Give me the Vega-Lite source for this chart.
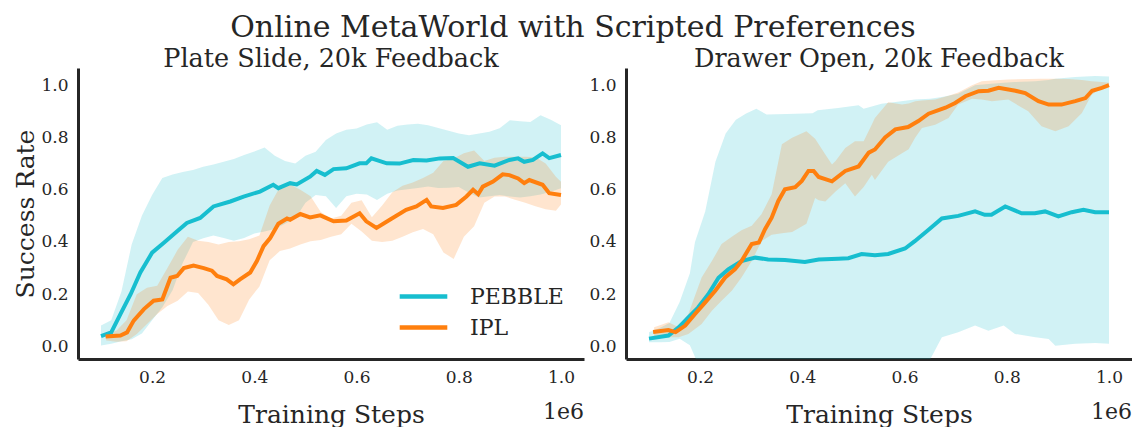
{
  "$schema": "https://vega.github.io/schema/vega-lite/v6.json",
  "padding": {"left": 13, "top": 12, "right": 0, "bottom": 0},
  "background": "white",
  "title": {"text": "Online MetaWorld with Scripted Preferences", "fontSize": 30, "offset": 4, "anchor": "middle"},
  "config": {
    "font": "DejaVu Serif",
    "view": {"stroke": null},
    "title": {"font": "DejaVu Serif", "fontWeight": "normal", "color": "#262626"},
    "axis": {"grid": false, "ticks": false, "tickSize": 0, "domainColor": "#262626", "domainWidth": 3, "labelFont": "DejaVu Serif", "labelFontSize": 17, "labelColor": "#262626", "titleFont": "DejaVu Serif", "titleFontSize": 25, "titleFontWeight": "normal", "titleColor": "#262626"}
  },
  "datasets": {
    "lines": [
      {"p":"plate","m":"PEBBLE","x":0.10,"y":0.04},{"p":"plate","m":"PEBBLE","x":0.12,"y":0.054},{"p":"plate","m":"PEBBLE","x":0.138,"y":0.124},{"p":"plate","m":"PEBBLE","x":0.158,"y":0.20},{"p":"plate","m":"PEBBLE","x":0.177,"y":0.283},{"p":"plate","m":"PEBBLE","x":0.20,"y":0.359},{"p":"plate","m":"PEBBLE","x":0.223,"y":0.397},{"p":"plate","m":"PEBBLE","x":0.249,"y":0.441},{"p":"plate","m":"PEBBLE","x":0.268,"y":0.473},{"p":"plate","m":"PEBBLE","x":0.294,"y":0.492},{"p":"plate","m":"PEBBLE","x":0.32,"y":0.536},{"p":"plate","m":"PEBBLE","x":0.353,"y":0.555},{"p":"plate","m":"PEBBLE","x":0.379,"y":0.574},{"p":"plate","m":"PEBBLE","x":0.411,"y":0.593},{"p":"plate","m":"PEBBLE","x":0.437,"y":0.619},{"p":"plate","m":"PEBBLE","x":0.447,"y":0.606},{"p":"plate","m":"PEBBLE","x":0.47,"y":0.625},{"p":"plate","m":"PEBBLE","x":0.483,"y":0.62},{"p":"plate","m":"PEBBLE","x":0.509,"y":0.65},{"p":"plate","m":"PEBBLE","x":0.522,"y":0.672},{"p":"plate","m":"PEBBLE","x":0.538,"y":0.657},{"p":"plate","m":"PEBBLE","x":0.555,"y":0.679},{"p":"plate","m":"PEBBLE","x":0.58,"y":0.682},{"p":"plate","m":"PEBBLE","x":0.606,"y":0.701},{"p":"plate","m":"PEBBLE","x":0.619,"y":0.701},{"p":"plate","m":"PEBBLE","x":0.629,"y":0.72},{"p":"plate","m":"PEBBLE","x":0.659,"y":0.701},{"p":"plate","m":"PEBBLE","x":0.684,"y":0.70},{"p":"plate","m":"PEBBLE","x":0.711,"y":0.714},{"p":"plate","m":"PEBBLE","x":0.737,"y":0.712},{"p":"plate","m":"PEBBLE","x":0.763,"y":0.72},{"p":"plate","m":"PEBBLE","x":0.789,"y":0.721},{"p":"plate","m":"PEBBLE","x":0.818,"y":0.688},{"p":"plate","m":"PEBBLE","x":0.841,"y":0.701},{"p":"plate","m":"PEBBLE","x":0.87,"y":0.692},{"p":"plate","m":"PEBBLE","x":0.899,"y":0.714},{"p":"plate","m":"PEBBLE","x":0.916,"y":0.72},{"p":"plate","m":"PEBBLE","x":0.928,"y":0.707},{"p":"plate","m":"PEBBLE","x":0.945,"y":0.714},{"p":"plate","m":"PEBBLE","x":0.964,"y":0.739},{"p":"plate","m":"PEBBLE","x":0.977,"y":0.721},{"p":"plate","m":"PEBBLE","x":1.0,"y":0.733},
      {"p":"plate","m":"IPL","x":0.109,"y":0.038},{"p":"plate","m":"IPL","x":0.138,"y":0.042},{"p":"plate","m":"IPL","x":0.151,"y":0.054},{"p":"plate","m":"IPL","x":0.164,"y":0.099},{"p":"plate","m":"IPL","x":0.184,"y":0.143},{"p":"plate","m":"IPL","x":0.203,"y":0.175},{"p":"plate","m":"IPL","x":0.22,"y":0.18},{"p":"plate","m":"IPL","x":0.236,"y":0.263},{"p":"plate","m":"IPL","x":0.249,"y":0.27},{"p":"plate","m":"IPL","x":0.262,"y":0.30},{"p":"plate","m":"IPL","x":0.281,"y":0.31},{"p":"plate","m":"IPL","x":0.301,"y":0.30},{"p":"plate","m":"IPL","x":0.317,"y":0.29},{"p":"plate","m":"IPL","x":0.327,"y":0.27},{"p":"plate","m":"IPL","x":0.346,"y":0.257},{"p":"plate","m":"IPL","x":0.359,"y":0.238},{"p":"plate","m":"IPL","x":0.372,"y":0.257},{"p":"plate","m":"IPL","x":0.392,"y":0.283},{"p":"plate","m":"IPL","x":0.405,"y":0.327},{"p":"plate","m":"IPL","x":0.418,"y":0.384},{"p":"plate","m":"IPL","x":0.431,"y":0.415},{"p":"plate","m":"IPL","x":0.447,"y":0.47},{"p":"plate","m":"IPL","x":0.464,"y":0.49},{"p":"plate","m":"IPL","x":0.47,"y":0.485},{"p":"plate","m":"IPL","x":0.49,"y":0.507},{"p":"plate","m":"IPL","x":0.509,"y":0.494},{"p":"plate","m":"IPL","x":0.529,"y":0.502},{"p":"plate","m":"IPL","x":0.555,"y":0.479},{"p":"plate","m":"IPL","x":0.58,"y":0.482},{"p":"plate","m":"IPL","x":0.606,"y":0.51},{"p":"plate","m":"IPL","x":0.619,"y":0.479},{"p":"plate","m":"IPL","x":0.639,"y":0.454},{"p":"plate","m":"IPL","x":0.665,"y":0.485},{"p":"plate","m":"IPL","x":0.697,"y":0.523},{"p":"plate","m":"IPL","x":0.717,"y":0.536},{"p":"plate","m":"IPL","x":0.737,"y":0.561},{"p":"plate","m":"IPL","x":0.746,"y":0.536},{"p":"plate","m":"IPL","x":0.769,"y":0.53},{"p":"plate","m":"IPL","x":0.795,"y":0.542},{"p":"plate","m":"IPL","x":0.815,"y":0.574},{"p":"plate","m":"IPL","x":0.828,"y":0.60},{"p":"plate","m":"IPL","x":0.838,"y":0.583},{"p":"plate","m":"IPL","x":0.847,"y":0.612},{"p":"plate","m":"IPL","x":0.867,"y":0.631},{"p":"plate","m":"IPL","x":0.886,"y":0.659},{"p":"plate","m":"IPL","x":0.899,"y":0.656},{"p":"plate","m":"IPL","x":0.916,"y":0.643},{"p":"plate","m":"IPL","x":0.928,"y":0.625},{"p":"plate","m":"IPL","x":0.938,"y":0.637},{"p":"plate","m":"IPL","x":0.964,"y":0.619},{"p":"plate","m":"IPL","x":0.977,"y":0.587},{"p":"plate","m":"IPL","x":1.0,"y":0.58},
      {"p":"drawer","m":"PEBBLE","x":0.10,"y":0.03},{"p":"drawer","m":"PEBBLE","x":0.138,"y":0.042},{"p":"drawer","m":"PEBBLE","x":0.158,"y":0.073},{"p":"drawer","m":"PEBBLE","x":0.177,"y":0.111},{"p":"drawer","m":"PEBBLE","x":0.196,"y":0.149},{"p":"drawer","m":"PEBBLE","x":0.216,"y":0.20},{"p":"drawer","m":"PEBBLE","x":0.236,"y":0.263},{"p":"drawer","m":"PEBBLE","x":0.255,"y":0.295},{"p":"drawer","m":"PEBBLE","x":0.281,"y":0.327},{"p":"drawer","m":"PEBBLE","x":0.308,"y":0.34},{"p":"drawer","m":"PEBBLE","x":0.333,"y":0.333},{"p":"drawer","m":"PEBBLE","x":0.366,"y":0.331},{"p":"drawer","m":"PEBBLE","x":0.405,"y":0.323},{"p":"drawer","m":"PEBBLE","x":0.432,"y":0.333},{"p":"drawer","m":"PEBBLE","x":0.47,"y":0.336},{"p":"drawer","m":"PEBBLE","x":0.49,"y":0.338},{"p":"drawer","m":"PEBBLE","x":0.516,"y":0.354},{"p":"drawer","m":"PEBBLE","x":0.542,"y":0.349},{"p":"drawer","m":"PEBBLE","x":0.568,"y":0.354},{"p":"drawer","m":"PEBBLE","x":0.601,"y":0.375},{"p":"drawer","m":"PEBBLE","x":0.62,"y":0.403},{"p":"drawer","m":"PEBBLE","x":0.647,"y":0.447},{"p":"drawer","m":"PEBBLE","x":0.673,"y":0.49},{"p":"drawer","m":"PEBBLE","x":0.705,"y":0.50},{"p":"drawer","m":"PEBBLE","x":0.738,"y":0.517},{"p":"drawer","m":"PEBBLE","x":0.757,"y":0.504},{"p":"drawer","m":"PEBBLE","x":0.77,"y":0.504},{"p":"drawer","m":"PEBBLE","x":0.797,"y":0.536},{"p":"drawer","m":"PEBBLE","x":0.829,"y":0.51},{"p":"drawer","m":"PEBBLE","x":0.855,"y":0.51},{"p":"drawer","m":"PEBBLE","x":0.875,"y":0.517},{"p":"drawer","m":"PEBBLE","x":0.901,"y":0.498},{"p":"drawer","m":"PEBBLE","x":0.927,"y":0.514},{"p":"drawer","m":"PEBBLE","x":0.95,"y":0.523},{"p":"drawer","m":"PEBBLE","x":0.973,"y":0.514},{"p":"drawer","m":"PEBBLE","x":1.0,"y":0.514},
      {"p":"drawer","m":"IPL","x":0.108,"y":0.055},{"p":"drawer","m":"IPL","x":0.138,"y":0.063},{"p":"drawer","m":"IPL","x":0.152,"y":0.055},{"p":"drawer","m":"IPL","x":0.171,"y":0.08},{"p":"drawer","m":"IPL","x":0.19,"y":0.124},{"p":"drawer","m":"IPL","x":0.21,"y":0.169},{"p":"drawer","m":"IPL","x":0.23,"y":0.214},{"p":"drawer","m":"IPL","x":0.249,"y":0.264},{"p":"drawer","m":"IPL","x":0.268,"y":0.295},{"p":"drawer","m":"IPL","x":0.281,"y":0.327},{"p":"drawer","m":"IPL","x":0.301,"y":0.392},{"p":"drawer","m":"IPL","x":0.315,"y":0.398},{"p":"drawer","m":"IPL","x":0.327,"y":0.449},{"p":"drawer","m":"IPL","x":0.34,"y":0.493},{"p":"drawer","m":"IPL","x":0.353,"y":0.557},{"p":"drawer","m":"IPL","x":0.366,"y":0.602},{"p":"drawer","m":"IPL","x":0.386,"y":0.61},{"p":"drawer","m":"IPL","x":0.399,"y":0.634},{"p":"drawer","m":"IPL","x":0.412,"y":0.672},{"p":"drawer","m":"IPL","x":0.422,"y":0.672},{"p":"drawer","m":"IPL","x":0.432,"y":0.649},{"p":"drawer","m":"IPL","x":0.458,"y":0.632},{"p":"drawer","m":"IPL","x":0.484,"y":0.672},{"p":"drawer","m":"IPL","x":0.51,"y":0.689},{"p":"drawer","m":"IPL","x":0.53,"y":0.742},{"p":"drawer","m":"IPL","x":0.542,"y":0.754},{"p":"drawer","m":"IPL","x":0.562,"y":0.80},{"p":"drawer","m":"IPL","x":0.582,"y":0.831},{"p":"drawer","m":"IPL","x":0.607,"y":0.84},{"p":"drawer","m":"IPL","x":0.627,"y":0.863},{"p":"drawer","m":"IPL","x":0.647,"y":0.891},{"p":"drawer","m":"IPL","x":0.68,"y":0.914},{"p":"drawer","m":"IPL","x":0.699,"y":0.932},{"p":"drawer","m":"IPL","x":0.719,"y":0.958},{"p":"drawer","m":"IPL","x":0.745,"y":0.977},{"p":"drawer","m":"IPL","x":0.764,"y":0.979},{"p":"drawer","m":"IPL","x":0.784,"y":0.99},{"p":"drawer","m":"IPL","x":0.817,"y":0.979},{"p":"drawer","m":"IPL","x":0.836,"y":0.97},{"p":"drawer","m":"IPL","x":0.862,"y":0.939},{"p":"drawer","m":"IPL","x":0.882,"y":0.926},{"p":"drawer","m":"IPL","x":0.907,"y":0.926},{"p":"drawer","m":"IPL","x":0.934,"y":0.939},{"p":"drawer","m":"IPL","x":0.954,"y":0.951},{"p":"drawer","m":"IPL","x":0.967,"y":0.979},{"p":"drawer","m":"IPL","x":0.986,"y":0.99},{"p":"drawer","m":"IPL","x":1.0,"y":1.0}
    ],
    "bands": [
      {"p":"plate","m":"PEBBLE","x":0.10,"lo":0.004,"hi":0.08},{"p":"plate","m":"PEBBLE","x":0.12,"lo":0.01,"hi":0.10},{"p":"plate","m":"PEBBLE","x":0.14,"lo":0.02,"hi":0.21},{"p":"plate","m":"PEBBLE","x":0.16,"lo":0.028,"hi":0.39},{"p":"plate","m":"PEBBLE","x":0.18,"lo":0.05,"hi":0.50},{"p":"plate","m":"PEBBLE","x":0.20,"lo":0.10,"hi":0.58},{"p":"plate","m":"PEBBLE","x":0.22,"lo":0.15,"hi":0.645},{"p":"plate","m":"PEBBLE","x":0.24,"lo":0.215,"hi":0.658},{"p":"plate","m":"PEBBLE","x":0.26,"lo":0.32,"hi":0.668},{"p":"plate","m":"PEBBLE","x":0.28,"lo":0.40,"hi":0.676},{"p":"plate","m":"PEBBLE","x":0.30,"lo":0.414,"hi":0.688},{"p":"plate","m":"PEBBLE","x":0.32,"lo":0.425,"hi":0.697},{"p":"plate","m":"PEBBLE","x":0.34,"lo":0.415,"hi":0.707},{"p":"plate","m":"PEBBLE","x":0.36,"lo":0.405,"hi":0.718},{"p":"plate","m":"PEBBLE","x":0.38,"lo":0.415,"hi":0.733},{"p":"plate","m":"PEBBLE","x":0.40,"lo":0.432,"hi":0.746},{"p":"plate","m":"PEBBLE","x":0.42,"lo":0.44,"hi":0.762},{"p":"plate","m":"PEBBLE","x":0.44,"lo":0.45,"hi":0.73},{"p":"plate","m":"PEBBLE","x":0.46,"lo":0.47,"hi":0.71},{"p":"plate","m":"PEBBLE","x":0.48,"lo":0.49,"hi":0.70},{"p":"plate","m":"PEBBLE","x":0.50,"lo":0.55,"hi":0.73},{"p":"plate","m":"PEBBLE","x":0.52,"lo":0.58,"hi":0.745},{"p":"plate","m":"PEBBLE","x":0.54,"lo":0.575,"hi":0.79},{"p":"plate","m":"PEBBLE","x":0.56,"lo":0.53,"hi":0.815},{"p":"plate","m":"PEBBLE","x":0.58,"lo":0.575,"hi":0.83},{"p":"plate","m":"PEBBLE","x":0.60,"lo":0.585,"hi":0.834},{"p":"plate","m":"PEBBLE","x":0.62,"lo":0.582,"hi":0.85},{"p":"plate","m":"PEBBLE","x":0.64,"lo":0.561,"hi":0.858},{"p":"plate","m":"PEBBLE","x":0.66,"lo":0.585,"hi":0.83},{"p":"plate","m":"PEBBLE","x":0.68,"lo":0.597,"hi":0.845},{"p":"plate","m":"PEBBLE","x":0.70,"lo":0.602,"hi":0.85},{"p":"plate","m":"PEBBLE","x":0.72,"lo":0.607,"hi":0.853},{"p":"plate","m":"PEBBLE","x":0.74,"lo":0.612,"hi":0.847},{"p":"plate","m":"PEBBLE","x":0.76,"lo":0.607,"hi":0.836},{"p":"plate","m":"PEBBLE","x":0.78,"lo":0.608,"hi":0.826},{"p":"plate","m":"PEBBLE","x":0.80,"lo":0.61,"hi":0.815},{"p":"plate","m":"PEBBLE","x":0.82,"lo":0.588,"hi":0.809},{"p":"plate","m":"PEBBLE","x":0.84,"lo":0.57,"hi":0.815},{"p":"plate","m":"PEBBLE","x":0.86,"lo":0.575,"hi":0.822},{"p":"plate","m":"PEBBLE","x":0.88,"lo":0.58,"hi":0.835},{"p":"plate","m":"PEBBLE","x":0.90,"lo":0.574,"hi":0.866},{"p":"plate","m":"PEBBLE","x":0.92,"lo":0.57,"hi":0.862},{"p":"plate","m":"PEBBLE","x":0.94,"lo":0.575,"hi":0.859},{"p":"plate","m":"PEBBLE","x":0.96,"lo":0.582,"hi":0.885},{"p":"plate","m":"PEBBLE","x":0.98,"lo":0.592,"hi":0.868},{"p":"plate","m":"PEBBLE","x":1.00,"lo":0.606,"hi":0.847},
      {"p":"plate","m":"IPL","x":0.11,"lo":0.023,"hi":0.054},{"p":"plate","m":"IPL","x":0.13,"lo":0.018,"hi":0.06},{"p":"plate","m":"IPL","x":0.15,"lo":0.02,"hi":0.10},{"p":"plate","m":"IPL","x":0.17,"lo":0.048,"hi":0.20},{"p":"plate","m":"IPL","x":0.19,"lo":0.086,"hi":0.225},{"p":"plate","m":"IPL","x":0.21,"lo":0.124,"hi":0.232},{"p":"plate","m":"IPL","x":0.23,"lo":0.155,"hi":0.30},{"p":"plate","m":"IPL","x":0.25,"lo":0.175,"hi":0.37},{"p":"plate","m":"IPL","x":0.27,"lo":0.21,"hi":0.42},{"p":"plate","m":"IPL","x":0.29,"lo":0.205,"hi":0.405},{"p":"plate","m":"IPL","x":0.31,"lo":0.16,"hi":0.40},{"p":"plate","m":"IPL","x":0.33,"lo":0.10,"hi":0.39},{"p":"plate","m":"IPL","x":0.35,"lo":0.082,"hi":0.40},{"p":"plate","m":"IPL","x":0.37,"lo":0.10,"hi":0.403},{"p":"plate","m":"IPL","x":0.39,"lo":0.18,"hi":0.41},{"p":"plate","m":"IPL","x":0.41,"lo":0.23,"hi":0.425},{"p":"plate","m":"IPL","x":0.43,"lo":0.33,"hi":0.54},{"p":"plate","m":"IPL","x":0.45,"lo":0.365,"hi":0.61},{"p":"plate","m":"IPL","x":0.47,"lo":0.375,"hi":0.62},{"p":"plate","m":"IPL","x":0.49,"lo":0.39,"hi":0.60},{"p":"plate","m":"IPL","x":0.51,"lo":0.403,"hi":0.575},{"p":"plate","m":"IPL","x":0.53,"lo":0.408,"hi":0.515},{"p":"plate","m":"IPL","x":0.55,"lo":0.42,"hi":0.49},{"p":"plate","m":"IPL","x":0.57,"lo":0.43,"hi":0.50},{"p":"plate","m":"IPL","x":0.59,"lo":0.47,"hi":0.55},{"p":"plate","m":"IPL","x":0.61,"lo":0.44,"hi":0.56},{"p":"plate","m":"IPL","x":0.63,"lo":0.405,"hi":0.495},{"p":"plate","m":"IPL","x":0.65,"lo":0.40,"hi":0.54},{"p":"plate","m":"IPL","x":0.67,"lo":0.405,"hi":0.59},{"p":"plate","m":"IPL","x":0.69,"lo":0.42,"hi":0.615},{"p":"plate","m":"IPL","x":0.71,"lo":0.437,"hi":0.628},{"p":"plate","m":"IPL","x":0.73,"lo":0.45,"hi":0.645},{"p":"plate","m":"IPL","x":0.75,"lo":0.43,"hi":0.665},{"p":"plate","m":"IPL","x":0.77,"lo":0.36,"hi":0.71},{"p":"plate","m":"IPL","x":0.79,"lo":0.335,"hi":0.72},{"p":"plate","m":"IPL","x":0.81,"lo":0.42,"hi":0.74},{"p":"plate","m":"IPL","x":0.83,"lo":0.46,"hi":0.75},{"p":"plate","m":"IPL","x":0.85,"lo":0.55,"hi":0.71},{"p":"plate","m":"IPL","x":0.87,"lo":0.574,"hi":0.722},{"p":"plate","m":"IPL","x":0.89,"lo":0.574,"hi":0.726},{"p":"plate","m":"IPL","x":0.91,"lo":0.562,"hi":0.726},{"p":"plate","m":"IPL","x":0.93,"lo":0.55,"hi":0.726},{"p":"plate","m":"IPL","x":0.95,"lo":0.537,"hi":0.724},{"p":"plate","m":"IPL","x":0.97,"lo":0.525,"hi":0.70},{"p":"plate","m":"IPL","x":0.99,"lo":0.52,"hi":0.65},{"p":"plate","m":"IPL","x":1.00,"lo":0.543,"hi":0.631},
      {"p":"drawer","m":"PEBBLE","x":0.10,"lo":0.016,"hi":0.054},{"p":"drawer","m":"PEBBLE","x":0.12,"lo":0.016,"hi":0.07},{"p":"drawer","m":"PEBBLE","x":0.14,"lo":0.017,"hi":0.09},{"p":"drawer","m":"PEBBLE","x":0.16,"lo":0.03,"hi":0.17},{"p":"drawer","m":"PEBBLE","x":0.18,"lo":0.005,"hi":0.28},{"p":"drawer","m":"PEBBLE","x":0.19,"lo":-0.04,"hi":0.40},{"p":"drawer","m":"PEBBLE","x":0.21,"lo":-0.15,"hi":0.517},{"p":"drawer","m":"PEBBLE","x":0.23,"lo":-0.2,"hi":0.707},{"p":"drawer","m":"PEBBLE","x":0.25,"lo":-0.2,"hi":0.815},{"p":"drawer","m":"PEBBLE","x":0.27,"lo":-0.2,"hi":0.868},{"p":"drawer","m":"PEBBLE","x":0.29,"lo":-0.2,"hi":0.892},{"p":"drawer","m":"PEBBLE","x":0.31,"lo":-0.2,"hi":0.91},{"p":"drawer","m":"PEBBLE","x":0.33,"lo":-0.2,"hi":0.888},{"p":"drawer","m":"PEBBLE","x":0.37,"lo":-0.2,"hi":0.89},{"p":"drawer","m":"PEBBLE","x":0.42,"lo":-0.2,"hi":0.893},{"p":"drawer","m":"PEBBLE","x":0.43,"lo":-0.2,"hi":0.904},{"p":"drawer","m":"PEBBLE","x":0.47,"lo":-0.2,"hi":0.913},{"p":"drawer","m":"PEBBLE","x":0.51,"lo":-0.2,"hi":0.923},{"p":"drawer","m":"PEBBLE","x":0.52,"lo":-0.2,"hi":0.91},{"p":"drawer","m":"PEBBLE","x":0.555,"lo":-0.2,"hi":0.929},{"p":"drawer","m":"PEBBLE","x":0.59,"lo":-0.2,"hi":0.938},{"p":"drawer","m":"PEBBLE","x":0.62,"lo":-0.2,"hi":0.945},{"p":"drawer","m":"PEBBLE","x":0.64,"lo":-0.15,"hi":0.947},{"p":"drawer","m":"PEBBLE","x":0.65,"lo":-0.05,"hi":0.948},{"p":"drawer","m":"PEBBLE","x":0.673,"lo":0.035,"hi":0.955},{"p":"drawer","m":"PEBBLE","x":0.705,"lo":0.054,"hi":0.967},{"p":"drawer","m":"PEBBLE","x":0.738,"lo":0.08,"hi":1.0},{"p":"drawer","m":"PEBBLE","x":0.764,"lo":0.06,"hi":1.005},{"p":"drawer","m":"PEBBLE","x":0.794,"lo":0.08,"hi":1.01},{"p":"drawer","m":"PEBBLE","x":0.816,"lo":0.048,"hi":1.012},{"p":"drawer","m":"PEBBLE","x":0.856,"lo":0.035,"hi":1.015},{"p":"drawer","m":"PEBBLE","x":0.882,"lo":0.029,"hi":1.02},{"p":"drawer","m":"PEBBLE","x":0.895,"lo":0.003,"hi":1.025},{"p":"drawer","m":"PEBBLE","x":0.934,"lo":0.01,"hi":1.032},{"p":"drawer","m":"PEBBLE","x":0.973,"lo":0.013,"hi":1.035},{"p":"drawer","m":"PEBBLE","x":1.0,"lo":0.01,"hi":1.033},
      {"p":"drawer","m":"IPL","x":0.11,"lo":0.035,"hi":0.074},{"p":"drawer","m":"IPL","x":0.138,"lo":0.035,"hi":0.093},{"p":"drawer","m":"IPL","x":0.158,"lo":0.035,"hi":0.074},{"p":"drawer","m":"IPL","x":0.177,"lo":0.048,"hi":0.124},{"p":"drawer","m":"IPL","x":0.203,"lo":0.086,"hi":0.264},{"p":"drawer","m":"IPL","x":0.223,"lo":0.137,"hi":0.327},{"p":"drawer","m":"IPL","x":0.242,"lo":0.175,"hi":0.392},{"p":"drawer","m":"IPL","x":0.262,"lo":0.213,"hi":0.42},{"p":"drawer","m":"IPL","x":0.281,"lo":0.264,"hi":0.445},{"p":"drawer","m":"IPL","x":0.301,"lo":0.327,"hi":0.462},{"p":"drawer","m":"IPL","x":0.32,"lo":0.403,"hi":0.506},{"p":"drawer","m":"IPL","x":0.34,"lo":0.428,"hi":0.583},{"p":"drawer","m":"IPL","x":0.36,"lo":0.433,"hi":0.774},{"p":"drawer","m":"IPL","x":0.38,"lo":0.438,"hi":0.799},{"p":"drawer","m":"IPL","x":0.408,"lo":0.47,"hi":0.824},{"p":"drawer","m":"IPL","x":0.425,"lo":0.568,"hi":0.795},{"p":"drawer","m":"IPL","x":0.432,"lo":0.56,"hi":0.774},{"p":"drawer","m":"IPL","x":0.445,"lo":0.555,"hi":0.735},{"p":"drawer","m":"IPL","x":0.458,"lo":0.58,"hi":0.697},{"p":"drawer","m":"IPL","x":0.465,"lo":0.593,"hi":0.71},{"p":"drawer","m":"IPL","x":0.484,"lo":0.625,"hi":0.76},{"p":"drawer","m":"IPL","x":0.503,"lo":0.574,"hi":0.786},{"p":"drawer","m":"IPL","x":0.52,"lo":0.61,"hi":0.786},{"p":"drawer","m":"IPL","x":0.536,"lo":0.657,"hi":0.85},{"p":"drawer","m":"IPL","x":0.542,"lo":0.637,"hi":0.875},{"p":"drawer","m":"IPL","x":0.568,"lo":0.707,"hi":0.935},{"p":"drawer","m":"IPL","x":0.595,"lo":0.74,"hi":0.926},{"p":"drawer","m":"IPL","x":0.608,"lo":0.755,"hi":0.93},{"p":"drawer","m":"IPL","x":0.621,"lo":0.80,"hi":0.939},{"p":"drawer","m":"IPL","x":0.634,"lo":0.836,"hi":0.942},{"p":"drawer","m":"IPL","x":0.66,"lo":0.849,"hi":0.945},{"p":"drawer","m":"IPL","x":0.686,"lo":0.875,"hi":0.96},{"p":"drawer","m":"IPL","x":0.705,"lo":0.926,"hi":0.972},{"p":"drawer","m":"IPL","x":0.732,"lo":0.948,"hi":1.0},{"p":"drawer","m":"IPL","x":0.751,"lo":0.945,"hi":1.015},{"p":"drawer","m":"IPL","x":0.771,"lo":0.939,"hi":1.018},{"p":"drawer","m":"IPL","x":0.803,"lo":0.945,"hi":1.022},{"p":"drawer","m":"IPL","x":0.842,"lo":0.90,"hi":1.024},{"p":"drawer","m":"IPL","x":0.868,"lo":0.843,"hi":1.025},{"p":"drawer","m":"IPL","x":0.895,"lo":0.824,"hi":1.025},{"p":"drawer","m":"IPL","x":0.921,"lo":0.843,"hi":1.024},{"p":"drawer","m":"IPL","x":0.947,"lo":0.894,"hi":1.02},{"p":"drawer","m":"IPL","x":0.966,"lo":0.964,"hi":1.015},{"p":"drawer","m":"IPL","x":0.986,"lo":0.99,"hi":1.012},{"p":"drawer","m":"IPL","x":1.0,"lo":0.995,"hi":1.01}
    ]
  },
  "bounds": "flush",
  "spacing": 42,
  "resolve": {"legend": {"color": "independent"}},
  "hconcat": [
    {
      "width": 506, "height": 291,
      "title": {"text": "Plate Slide, 20k Feedback", "fontSize": 25.5, "offset": -4},
      "layer": [
        {
          "data": {"name": "bands"},
          "transform": [{"filter": "datum.p == 'plate'"}],
          "mark": {"type": "area", "opacity": 0.2, "clip": true},
          "encoding": {
            "x": {"field": "x", "type": "quantitative", "scale": {"domain": [0.055, 1.045], "nice": false, "zero": false}, "axis": {"values": [0.2, 0.4, 0.6, 0.8, 1.0], "format": ".1f", "title": "Training Steps", "labelPadding": 10, "titlePadding": 17}},
            "y": {"field": "lo", "type": "quantitative", "stack": null, "scale": {"domain": [-0.048, 1.066], "nice": false, "zero": false}, "axis": {"values": [0, 0.2, 0.4, 0.6, 0.8, 1.0], "format": ".1f", "title": "Success Rate", "labelPadding": 10, "titlePadding": 2}},
            "y2": {"field": "hi"},
            "fill": {"field": "m", "type": "nominal", "scale": {"domain": ["PEBBLE", "IPL"], "range": ["#17becf", "#ff7f0e"]}, "legend": null}
          }
        },
        {
          "data": {"name": "lines"},
          "transform": [{"filter": "datum.p == 'plate'"}],
          "mark": {"type": "line", "strokeWidth": 4, "clip": true},
          "encoding": {
            "x": {"field": "x", "type": "quantitative"},
            "y": {"field": "y", "type": "quantitative"},
            "color": {"field": "m", "type": "nominal", "scale": {"domain": ["PEBBLE", "IPL"], "range": ["#17becf", "#ff7f0e"]}, "legend": {"title": null, "orient": "bottom-right", "offset": 20, "padding": 0, "symbolType": "M-1.4,0H1.4", "symbolSize": 1156, "symbolStrokeWidth": 4.5, "labelFont": "DejaVu Serif", "labelFontSize": 22, "labelColor": "#262626", "labelOffset": 27, "rowPadding": 0}}
          }
        },
        {
          "data": {"values": [{"t": "1e6"}]},
          "mark": {"type": "text", "align": "right", "baseline": "middle", "fontSize": 22, "font": "DejaVu Serif", "color": "#262626"},
          "encoding": {"x": {"datum": 1.045}, "y": {"datum": -0.25}, "text": {"field": "t"}}
        }
      ]
    },
    {
      "width": 506, "height": 291,
      "title": {"text": "Drawer Open, 20k Feedback", "fontSize": 25.5, "offset": -4},
      "layer": [
        {
          "data": {"name": "bands"},
          "transform": [{"filter": "datum.p == 'drawer'"}],
          "mark": {"type": "area", "opacity": 0.2, "clip": true},
          "encoding": {
            "x": {"field": "x", "type": "quantitative", "scale": {"domain": [0.055, 1.045], "nice": false, "zero": false}, "axis": {"values": [0.2, 0.4, 0.6, 0.8, 1.0], "format": ".1f", "title": "Training Steps", "labelPadding": 10, "titlePadding": 17}},
            "y": {"field": "lo", "type": "quantitative", "stack": null, "scale": {"domain": [-0.048, 1.066], "nice": false, "zero": false}, "axis": {"values": [0, 0.2, 0.4, 0.6, 0.8, 1.0], "format": ".1f", "title": null, "labelPadding": 10}},
            "y2": {"field": "hi"},
            "fill": {"field": "m", "type": "nominal", "scale": {"domain": ["PEBBLE", "IPL"], "range": ["#17becf", "#ff7f0e"]}, "legend": null}
          }
        },
        {
          "data": {"name": "lines"},
          "transform": [{"filter": "datum.p == 'drawer'"}],
          "mark": {"type": "line", "strokeWidth": 4, "clip": true},
          "encoding": {
            "x": {"field": "x", "type": "quantitative"},
            "y": {"field": "y", "type": "quantitative"},
            "color": {"field": "m", "type": "nominal", "scale": {"domain": ["PEBBLE", "IPL"], "range": ["#17becf", "#ff7f0e"]}, "legend": null}
          }
        },
        {
          "data": {"values": [{"t": "1e6"}]},
          "mark": {"type": "text", "align": "right", "baseline": "middle", "fontSize": 22, "font": "DejaVu Serif", "color": "#262626"},
          "encoding": {"x": {"datum": 1.045}, "y": {"datum": -0.25}, "text": {"field": "t"}}
        }
      ]
    }
  ]
}
